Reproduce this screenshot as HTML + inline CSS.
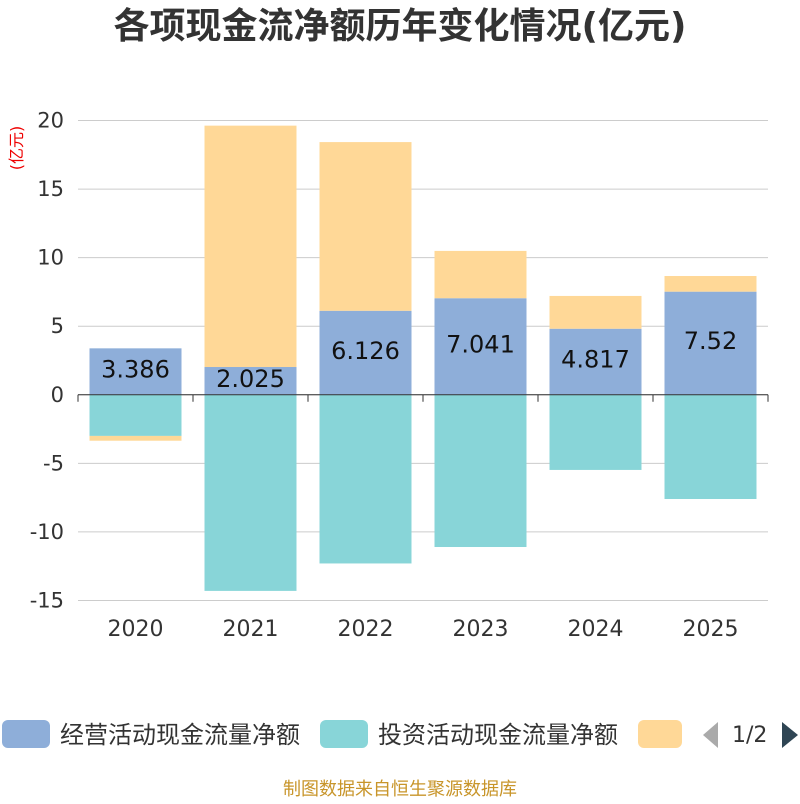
<!DOCTYPE html>
<html><head><meta charset="utf-8"><style>
body{margin:0;background:#fff;width:800px;height:800px;overflow:hidden;font-family:"DejaVu Sans","Noto Sans CJK SC",sans-serif}
</style></head><body>
<svg width="800" height="800" xmlns="http://www.w3.org/2000/svg">
<text x="400" y="38" text-anchor="middle" font-size="36" font-weight="bold" fill="#333" font-family="DejaVu Sans,Noto Sans CJK SC,sans-serif">各项现金流净额历年变化情况(亿元)</text>
<text transform="translate(22,148) rotate(-90)" text-anchor="middle" font-size="16" fill="#e00" font-family="DejaVu Sans,Noto Sans CJK SC,sans-serif">(亿元)</text>
<g id="grid"></g><g id="bars"></g><g id="axes" font-family="DejaVu Sans,sans-serif"></g>
<g font-family="DejaVu Sans,Noto Sans CJK SC,sans-serif" font-size="24" fill="#333">
<rect x="2" y="720" width="48" height="28" rx="6" fill="#8eaed9"/>
<text x="60" y="743">经营活动现金流量净额</text>
<rect x="320" y="720" width="48" height="28" rx="6" fill="#88d5d8"/>
<text x="378" y="743">投资活动现金流量净额</text>
<rect x="638" y="720" width="44" height="28" rx="6" fill="#ffd897"/>
<polygon points="718,722 718,748 703,735" fill="#aaa"/>
<text x="732" y="742" font-size="22">1/2</text>
<polygon points="782,722 782,748 798,735" fill="#2f4554"/>
</g>
<text x="400" y="795" text-anchor="middle" font-size="18" fill="#c8952a" font-family="DejaVu Sans,Noto Sans CJK SC,sans-serif">制图数据来自恒生聚源数据库</text>
</svg>
<script>
const years=["2020","2021","2022","2023","2024","2025"];
const operating=[3.386,2.025,6.126,7.041,4.817,7.52];
const investing=[-3.0,-14.3,-12.3,-11.1,-5.48,-7.6];
const financing=[-0.35,17.6,12.3,3.45,2.39,1.14];
const yTicks=[20,15,10,5,0,-5,-10,-15];
const NS="http://www.w3.org/2000/svg";
const x0=78,x1=768,yTop=120.5,yMax=20,pxPer=13.714;
const y=v=>yTop+(yMax-v)*pxPer;
const bw=(x1-x0)/years.length;
function mk(t,a,p){const e=document.createElementNS(NS,t);for(const k in a)e.setAttribute(k,a[k]);p.appendChild(e);return e;}
const grid=document.getElementById('grid'),bars=document.getElementById('bars'),axes=document.getElementById('axes');
yTicks.forEach(v=>{
 const l=mk('line',{x1:x0,x2:x1,y1:y(v),y2:y(v),stroke:'#ccc'},grid);
 
 
 const t=mk('text',{x:64,y:y(v)+7,'text-anchor':'end','font-size':21,fill:'#333'},axes);
 t.textContent=v;
 
 
});
const za=mk('line',{x1:x0,x2:x1,y1:y(0),y2:y(0),stroke:'#333'},axes);


years.forEach((yr,i)=>{
 const cx=x0+bw*(i+0.5),bx=cx-46,w=92;
 let pos=0,neg=0;
 [[operating[i],'#8eaed9','bar-operating'],[investing[i],'#88d5d8','bar-investing'],[financing[i],'#ffd897','bar-financing']].forEach(([v,c,n])=>{
  let a,b;
  if(v>=0){a=pos;b=pos+v;pos=b;}else{a=neg;b=neg+v;neg=b;}
  const r=mk('rect',{x:bx,y:Math.min(y(a),y(b)),width:w,height:Math.abs(y(a)-y(b)),fill:c},bars);
  
  
 });
 const lb=mk('text',{x:cx,y:y(operating[i]/2)+6,'text-anchor':'middle','font-size':24,fill:'#111','font-family':'DejaVu Sans,sans-serif'},bars);
 lb.textContent=operating[i];
 
 
 const tk=mk('line',{x1:x0+bw*i,x2:x0+bw*i,y1:y(0),y2:y(0)+7,stroke:'#333'},axes);
 
 
 const xt=mk('text',{x:cx,y:636,'text-anchor':'middle','font-size':22,fill:'#333'},axes);
 xt.textContent=yr;
 
 
});
const tl=mk('line',{x1:x1,x2:x1,y1:y(0),y2:y(0)+7,stroke:'#333'},axes);


</script>
</body></html>
